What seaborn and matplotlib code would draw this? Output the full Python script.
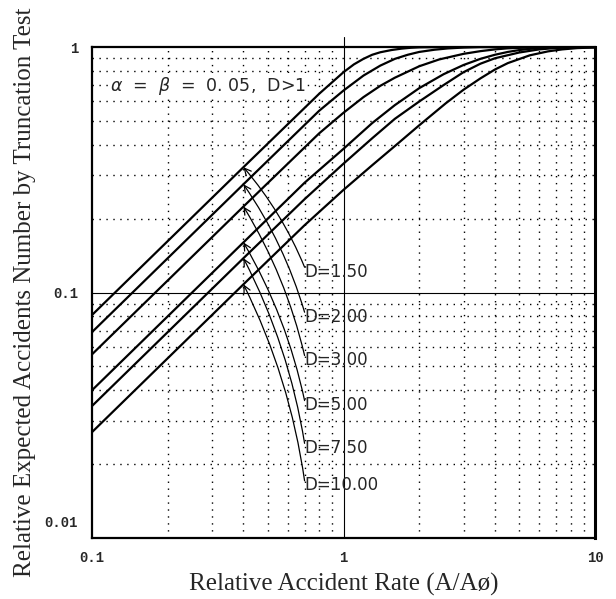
import matplotlib
matplotlib.use("Agg")
import matplotlib.pyplot as plt
import matplotlib.transforms as mtransforms
import seaborn as sns
import pandas as pd

# Relative accident rate (A/A0) sample points and relative expected
# accident numbers for each discrimination ratio D
d_labels = ["D=1.50", "D=2.00", "D=3.00", "D=5.00", "D=7.50", "D=10.00"]

x_d150 = [0.1, 0.4, 0.8, 1.0, 1.1, 1.2, 1.3, 1.4, 1.55, 1.7, 1.85, 2.0, 2.5, 10.0]
y_d150 = [0.081, 0.324, 0.645, 0.79, 0.85, 0.895, 0.93, 0.952, 0.972, 0.985, 0.993, 0.997, 1.0, 1.0]

x_d200 = [0.1, 0.4, 0.8, 1.0, 1.2, 1.4, 1.6, 1.8, 2.0, 2.3, 2.6, 3.0, 3.5, 10.0]
y_d200 = [0.069, 0.276, 0.55, 0.665, 0.765, 0.84, 0.895, 0.93, 0.955, 0.975, 0.987, 0.995, 1.0, 1.0]

x_d300 = [0.1, 0.4, 0.8, 1.0, 1.2, 1.4, 1.6, 2.0, 2.4, 2.7, 3.0, 3.5, 4.0, 4.5, 5.5, 7.0, 10.0]
y_d300 = [0.056, 0.224, 0.445, 0.54, 0.625, 0.695, 0.75, 0.835, 0.89, 0.915, 0.938, 0.962, 0.978, 0.988, 0.996, 1.0, 1.0]

x_d500 = [0.1, 0.4, 0.7, 1.0, 1.3, 1.6, 2.0, 2.5, 3.0, 3.5, 4.0, 4.5, 5.0, 5.5, 6.5, 8.0, 10.0]
y_d500 = [0.040, 0.16, 0.28, 0.385, 0.49, 0.58, 0.68, 0.775, 0.845, 0.895, 0.93, 0.955, 0.972, 0.983, 0.994, 0.999, 1.0]

x_d750 = [0.1, 0.4, 0.7, 1.0, 1.3, 1.6, 2.0, 2.5, 3.0, 3.5, 4.0, 5.0, 6.0, 7.0, 8.0, 10.0]
y_d750 = [0.0345, 0.138, 0.24, 0.335, 0.425, 0.51, 0.6, 0.70, 0.79, 0.855, 0.9, 0.95, 0.978, 0.991, 0.997, 1.0]

x_d1000 = [0.1, 0.4, 0.7, 1.0, 1.3, 1.6, 2.0, 2.55, 3.0, 3.5, 4.0, 4.5, 5.5, 6.5, 7.4, 8.5, 10.0]
y_d1000 = [0.027, 0.108, 0.188, 0.262, 0.33, 0.395, 0.48, 0.59, 0.67, 0.745, 0.81, 0.86, 0.925, 0.96, 0.978, 0.99, 0.996]

# Arrow targets on each curve and label anchor positions
arrow_x = 0.4
label_x = 0.70
label_y = [0.1216, 0.0797, 0.0531, 0.0348, 0.0233, 0.0164]

x_ticks = [0.1, 1, 10]
x_tick_labels = ["0.1", "1", "10"]
y_ticks = [0.01, 0.1, 1]
y_tick_labels = ["0.01", "0.1", "1"]

series_x = [x_d150, x_d200, x_d300, x_d500, x_d750, x_d1000]
series_y = [y_d150, y_d200, y_d300, y_d500, y_d750, y_d1000]

frames = []
for lab, xs, ys in zip(d_labels, series_x, series_y):
    frames.append(pd.DataFrame({"rate": xs, "expected": ys, "D": lab}))
df = pd.concat(frames, ignore_index=True)

sns.set_style("white")
plt.rcParams["font.family"] = ["DejaVu Sans"]

fig = plt.figure(figsize=(6.16, 5.99), dpi=100)
ax = fig.add_axes([0.1494, 0.1018, 0.8166, 0.8197])

sns.lineplot(data=df, x="rate", y="expected", hue="D", units="D",
             estimator=None, sort=False, palette=["black"] * 6,
             linewidth=1.6, legend=False, ax=ax)

ax.set_xscale("log")
ax.set_yscale("log")
ax.set_xlim(0.1, 10)
ax.set_ylim(0.01, 1)

# dotted minor grid, solid thin decade lines
ax.minorticks_on()
ax.grid(which="minor", color="black", linestyle=(0, (1, 4)), linewidth=1.0)
ax.grid(which="major", visible=False)
ax.axhline(0.1, color="black", linewidth=0.8)
ax.axvline(1.0, color="black", linewidth=0.8, ymax=1.02, clip_on=False)

ax.set_xticks(x_ticks)
ax.set_xticklabels(x_tick_labels)
ax.set_yticks(y_ticks)
ax.set_yticklabels(y_tick_labels)
ax.tick_params(which="both", length=0)
ax.tick_params(axis="x", pad=9)
ax.tick_params(axis="y", pad=10)
for t in ax.get_xticklabels() + ax.get_yticklabels():
    t.set_family("Liberation Mono")
    t.set_fontweight("bold")
    t.set_fontsize(10)

# lift the lowest y tick label clear of the x tick labels
low = ax.get_yticklabels()[0]
low.set_transform(low.get_transform() +
                  mtransforms.ScaledTranslation(0, 17 / 100, fig.dpi_scale_trans))

for sp in ax.spines.values():
    sp.set_color("black")
    sp.set_linewidth(1.6)
ax.spines["right"].set_linewidth(2.2)

ax.set_xlabel("Relative Accident Rate (A/A\u00f8)", family="Liberation Serif",
              fontsize=18, labelpad=6)
ax.set_ylabel("Relative Expected Accidents Number by Truncation Test",
              family="Liberation Serif", fontsize=18, labelpad=6)

ax.text(0.118, 0.695, r"$\alpha$  =  $\beta$  =  0. 05,  D>1", fontsize=12.5,
        ha="left", va="center",
        bbox=dict(facecolor="white", edgecolor="none", pad=1.0))

for lab, xs, ys, ly in zip(d_labels, series_x, series_y, label_y):
    ty = ys[xs.index(arrow_x)]
    ax.annotate(lab, xy=(arrow_x, ty), xytext=(label_x, ly),
                textcoords="data", ha="left", va="center", fontsize=12,
                bbox=dict(facecolor="none", edgecolor="none", pad=0),
                arrowprops=dict(arrowstyle="->", color="black", lw=0.9,
                                connectionstyle="arc3,rad=0.08",
                                relpos=(0.0, 0.75), shrinkA=0, shrinkB=0,
                                patchA=None))

fig.savefig("out.png", dpi=100)
